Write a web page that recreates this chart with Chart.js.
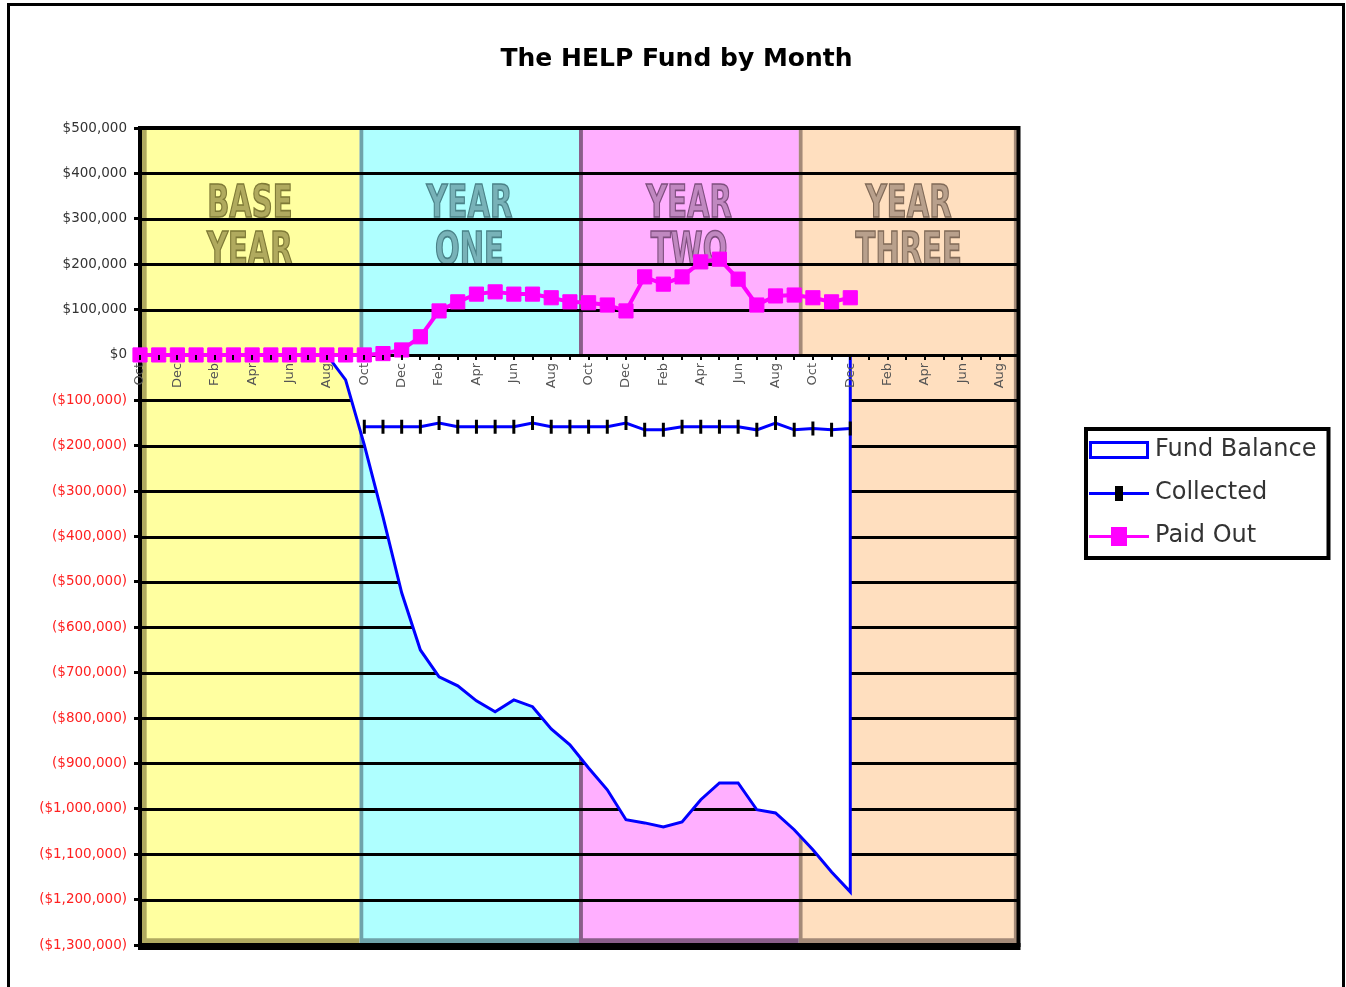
<!DOCTYPE html>
<html>
<head>
<meta charset="utf-8">
<script src="https://cdn.jsdelivr.net/npm/chart.js@4.4.0/dist/chart.umd.min.js"></script>
<style>
  html, body { margin: 0; padding: 0; background: #ffffff; overflow: hidden; }
  #wrap { width: 1346px; height: 987px; position: relative; }
</style>
</head>
<body>
<div id="wrap"><canvas id="c"></canvas></div>
<script>
// ---------------- DATA ----------------
const monthLabels = [
  'Oct','Nov','Dec','Jan','Feb','Mar','Apr','May','Jun','Jul','Aug','Sep',
  'Oct','Nov','Dec','Jan','Feb','Mar','Apr','May','Jun','Jul','Aug','Sep',
  'Oct','Nov','Dec','Jan','Feb','Mar','Apr','May','Jun','Jul','Aug','Sep',
  'Oct','Nov','Dec','Jan','Feb','Mar','Apr','May','Jun','Jul','Aug','Sep'
];

const fundBalance = [
  0, 0, 0, 0, 0, 0, 0, 0, 0, 0, 0, -55000,
  -198000, -357000, -524000, -650000, -709000, -729000, -762000, -786000, -760000, -775000, -824000, -859000,
  -910000, -958000, -1024000, -1031000, -1040000, -1029000, -980000, -943000, -943000, -1002000, -1009000, -1046000,
  -1090000, -1139000, -1183000
];

const collected = [
  null, null, null, null, null, null, null, null, null, null, null, null,
  -158000, -158000, -158000, -158000, -150000, -158000, -158000, -158000, -158000, -150000, -158000, -158000,
  -158000, -158000, -150000, -165000, -165000, -158000, -158000, -158000, -158000, -165000, -150000, -165000,
  -162000, -165000, -162000
];

const paidOut = [
  0, 0, 0, 0, 0, 0, 0, 0, 0, 0, 0, 0,
  0, 3000, 11000, 40000, 97000, 117000, 134000, 139000, 134000, 134000, 126000, 117000,
  115000, 110000, 97000, 172000, 156000, 172000, 205000, 211000, 167000, 110000, 130000, 132000,
  126000, 117000, 126000
];

const seriesNames = ['Fund Balance', 'Collected', 'Paid Out'];
const bandLabels = [['BASE', 'YEAR'], ['YEAR', 'ONE'], ['YEAR', 'TWO'], ['YEAR', 'THREE']];
const bandRange = [-1300000, 500000];
const yMin = -1300000, yMax = 500000, yStep = 100000;

// ---------------- STYLES ----------------
const bandFill   = ['#FFFFA0', '#AFFFFF', '#FFAFFF', '#FFDFBF'];
const bandEdge   = ['#B0AA60', '#6FA3AA', '#8A5E8A', '#A48A78'];
const bandText   = ['#B0AA5E', '#78B2B8', '#C088C0', '#B8A08C'];
const bandStroke = ['#7E7936', '#4A8288', '#7E4E7E', '#806A58'];

Chart.defaults.font.family = '"DejaVu Sans", "Liberation Sans", sans-serif';

const toPoints = arr => arr.map((v, i) => (v === null ? null : { x: i, y: v })).filter(Boolean);
const balancePoints = toPoints(fundBalance).concat([{ x: fundBalance.length - 1, y: 0 }]);
const fmtMoney = v => {
  const s = '$' + Math.abs(v).toLocaleString('en-US');
  return v < 0 ? '(' + s + ')' : s;
};

// legend icons
function makeIcon(kind) {
  const c = document.createElement('canvas');
  c.width = 62; c.height = 22;
  const g = c.getContext('2d');
  if (kind === 0) {
    g.fillStyle = '#ffffff'; g.fillRect(2, 3, 58, 16);
    g.strokeStyle = '#0000FF'; g.lineWidth = 3; g.strokeRect(2.5, 3.5, 57, 15);
  } else if (kind === 1) {
    g.strokeStyle = '#0000FF'; g.lineWidth = 3;
    g.beginPath(); g.moveTo(1, 11.5); g.lineTo(61, 11.5); g.stroke();
    g.fillStyle = '#000000'; g.fillRect(27, 4, 8, 15);
  } else {
    g.strokeStyle = '#FF00FF'; g.lineWidth = 3;
    g.beginPath(); g.moveTo(1, 11.5); g.lineTo(61, 11.5); g.stroke();
    g.fillStyle = '#FF00FF'; g.fillRect(23, 2, 16, 19);
  }
  return c;
}
const legendIcons = [makeIcon(0), makeIcon(1), makeIcon(2)];

const decorPlugin = {
  id: 'helpDecor',
  beforeDraw(chart) {
    const { ctx, width, height } = chart;
    ctx.save();
    ctx.fillStyle = '#ffffff';
    ctx.fillRect(0, 0, width, height);
    ctx.strokeStyle = '#000000';
    ctx.lineWidth = 3;
    ctx.strokeRect(8.5, 4.5, width - 11, height + 30);
    ctx.restore();
  },
  afterLayout(chart) {
    const L = chart.legend;
    if (L) {
      const w = L.width;
      L.left = 1076; L.right = L.left + w;
      L.top = 419; L.bottom = L.top + 170; L.height = 170;
    }
    const T = chart.titleBlock;
    if (T) {
      T.left += 54; T.width -= 0;
    }
  },
  afterDatasetDraw(chart, args) {
    const { ctx, chartArea: a } = chart;
    const ys = chart.scales.y;
    if (args.meta.type === 'bar') {
      // band captions
      args.meta.data.forEach((bar, i) => {
        const lines = bandLabels[i];
        lines.forEach((t, k) => {
          ctx.save();
          ctx.translate(bar.x, a.top + 78 + k * 47);
          ctx.scale(0.66, 1);
          ctx.font = 'bold 44px "DejaVu Sans"';
          ctx.textAlign = 'center';
          ctx.textBaseline = 'middle';
          ctx.fillStyle = bandText[i];
          ctx.fillText(t, 0, 0);
          ctx.lineWidth = 1.6;
          ctx.strokeStyle = bandStroke[i];
          ctx.strokeText(t, 0, 0);
          ctx.restore();
        });
      });
      // horizontal grid lines over the bands
      ctx.save();
      ctx.strokeStyle = '#000000';
      ctx.lineWidth = 3;
      ys.ticks.forEach(t => {
        const y = Math.round(ys.getPixelForValue(t.value)) + 0.5;
        ctx.beginPath(); ctx.moveTo(a.left, y); ctx.lineTo(a.right, y); ctx.stroke();
      });
      // plot frame
      ctx.lineWidth = 4;
      ctx.strokeRect(a.left, a.top, a.right - a.left, a.bottom - a.top);
      ctx.lineWidth = 7;
      ctx.beginPath(); ctx.moveTo(a.left - 2, a.bottom + 1.5); ctx.lineTo(a.right + 2, a.bottom + 1.5); ctx.stroke();
      ctx.restore();
    } else if (args.index === 0) {
      // zero line above the balance fill
      const y0 = Math.round(ys.getPixelForValue(0)) + 0.5;
      ctx.save();
      ctx.strokeStyle = '#000000';
      ctx.lineWidth = 3;
      ctx.beginPath(); ctx.moveTo(a.left, y0); ctx.lineTo(a.right, y0); ctx.stroke();
      ctx.restore();
    }
  },
  afterDraw(chart) {
    const L = chart.legend;
    if (!L) return;
    const ctx = chart.ctx;
    const h = L.columnSizes && L.columnSizes[0] ? L.columnSizes[0].height : 129;
    ctx.save();
    ctx.strokeStyle = '#000000';
    ctx.lineWidth = 4;
    ctx.strokeRect(L.left + 10, L.top + 10, L.width - 8, h);
    ctx.restore();
  }
};

new Chart(document.getElementById('c'), {
  type: 'line',
  data: {
    datasets: [
      {
        label: seriesNames[0],
        data: balancePoints,
        borderColor: '#0000FF',
        backgroundColor: '#FFFFFF',
        borderWidth: 3,
        fill: 'origin',
        pointRadius: 0,
        tension: 0,
        order: 3
      },
      {
        label: seriesNames[1],
        data: toPoints(collected),
        borderColor: '#0000FF',
        borderWidth: 3,
        fill: false,
        pointStyle: 'line',
        pointRotation: 90,
        pointRadius: 7,
        pointBorderColor: '#000000',
        pointBackgroundColor: '#000000',
        pointBorderWidth: 3,
        tension: 0,
        order: 2
      },
      {
        label: seriesNames[2],
        data: toPoints(paidOut),
        borderColor: '#FF00FF',
        borderWidth: 4,
        fill: false,
        pointStyle: 'rect',
        pointRadius: 10,
        pointBorderColor: '#FF00FF',
        pointBackgroundColor: '#FF00FF',
        pointBorderWidth: 1,
        tension: 0,
        clip: false,
        order: 1
      },
      {
        type: 'bar',
        label: 'bands',
        data: bandLabels.map(() => bandRange),
        xAxisID: 'x2',
        yAxisID: 'y',
        backgroundColor: bandFill,
        borderColor: bandEdge,
        borderWidth: (c) => ({ left: c.dataIndex === 0 ? 7 : 4, bottom: 7, right: c.dataIndex === 3 ? 5 : 0, top: 0 }),
        borderSkipped: false,
        grouped: false,
        barPercentage: 1,
        categoryPercentage: 1,
        order: 10
      }
    ]
  },
  options: {
    responsive: true,
    maintainAspectRatio: false,
    animation: false,
    events: [],
    layout: { padding: { left: 30, right: 77, top: 0, bottom: 42 } },
    plugins: {
      title: {
        display: true,
        text: 'The HELP Fund by Month',
        color: '#000000',
        font: { size: 25, weight: 'bold' },
        padding: { top: 44, bottom: 54 }
      },
      legend: {
        display: true,
        position: 'right',
        align: 'start',
        labels: {
          usePointStyle: true,
          pointStyleWidth: 48,
          padding: 19,
          color: '#333333',
          font: { size: 24 },
          generateLabels: (chart) => chart.data.datasets.slice(0, 3).map((ds, i) => ({
            text: ds.label,
            pointStyle: legendIcons[i],
            datasetIndex: i,
            hidden: false,
            fontColor: '#333333',
            lineWidth: 0,
            strokeStyle: 'rgba(0,0,0,0)',
            fillStyle: 'rgba(0,0,0,0)'
          }))
        }
      },
      tooltip: { enabled: false }
    },
    scales: {
      x: {
        type: 'linear',
        position: { y: 0 },
        min: 0,
        max: monthLabels.length - 1,
        offset: false,
        border: { display: false },
        grid: { display: true, drawOnChartArea: false, drawTicks: true, tickLength: 5, color: '#000000', lineWidth: 2, z: 1 },
        ticks: {
          z: 1,
          stepSize: 1,
          autoSkip: false,
          maxRotation: 90,
          minRotation: 90,
          padding: 3,
          color: '#555555',
          font: { size: 13 },
          callback: (v) => (Number.isInteger(v) && v % 2 === 0 ? monthLabels[v] : '')
        }
      },
      x2: {
        type: 'category',
        labels: bandLabels.map(l => l.join(' ')),
        offset: true,
        stacked: true,
        display: false
      },
      y: {
        type: 'linear',
        min: yMin,
        max: yMax,
        border: { display: false },
        grid: { display: true, drawOnChartArea: false, drawTicks: true, tickLength: 6, color: '#000000', lineWidth: 3 },
        afterFit: (scale) => { scale.width = 110; },
        ticks: {
          stepSize: yStep,
          padding: 7,
          font: { size: 13.5 },
          color: (c) => (c.tick && c.tick.value < 0 ? '#FF2020' : '#333333'),
          callback: (v) => fmtMoney(v)
        }
      }
    }
  },
  plugins: [decorPlugin]
});
</script>
</body>
</html>
